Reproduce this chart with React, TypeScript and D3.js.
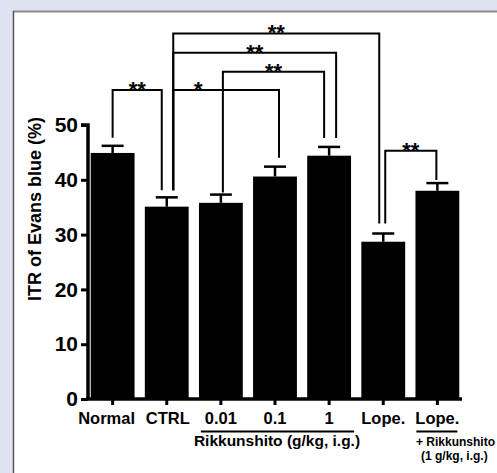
import React, { useEffect, useRef } from 'react';
import * as d3 from 'd3';

const categories = ['Normal', 'CTRL', '0.01', '0.1', '1', 'Lope.', 'Lope.+R'];
const tickLabels = ['Normal', 'CTRL', '0.01', '0.1', '1', 'Lope.', 'Lope.'];
const means = [44.9, 35.1, 35.8, 40.6, 44.4, 28.7, 38.0];
const sems = [1.3, 1.7, 1.5, 1.8, 1.6, 1.5, 1.4];
const yTicks = [0, 10, 20, 30, 40, 50];

// significance brackets: [from, to, level (% units), label]
const brackets: [number, number, number, string][] = [
    [0, 1, 56.4, '**'],
    [1, 3, 56.4, '*'],
    [2, 4, 59.7, '**'],
    [1, 4, 63.2, '**'],
    [1, 5, 66.7, '**'],
    [5, 6, 45.3, '**'],
];
// leg offsets from bar centre and gaps above error bars, in px
const legOffsets: [number, number][] = [[0, -5], [6.5, 4], [2, -5], [6.5, 7], [6.5, -4], [2, -1]];
const legGaps: [number, number][] = [[8, 7], [7, 9], [2, 9], [7, 9], [7, 10], [10, 3]];

const App = () => {
    const ref = useRef(null);

    useEffect(() => {
        document.body.style.margin = '0';
        document.body.style.overflow = 'hidden';
        const svg = d3.select(ref.current);
        svg.selectAll('*').remove();
        const font = 'Liberation Sans, Arial, sans-serif';

        // frame: lavender strips top and left, white panel elsewhere
        svg.append('rect').attr('width', 497).attr('height', 473).attr('fill', '#fff');
        svg.append('rect').attr('width', 497).attr('height', 11).attr('fill', '#dfe3f1');
        svg.append('rect').attr('width', 13).attr('height', 473).attr('fill', '#dfe3f1');
        svg.append('line').attr('x1', 13).attr('x2', 497).attr('y1', 11.5).attr('y2', 11.5)
            .attr('stroke', '#8c8c8c').attr('stroke-width', 2);
        svg.append('line').attr('x1', 13.5).attr('x2', 13.5).attr('y1', 11).attr('y2', 473)
            .attr('stroke', '#555').attr('stroke-width', 1.5);

        const x = d3.scaleBand().domain(categories).range([88, 462]).paddingInner(0.19).paddingOuter(0.05);
        const y = d3.scaleLinear().domain([0, 50]).range([399, 125]);
        const cx = (i: number) => (x(categories[i]) as number) + x.bandwidth() / 2;

        const g = svg.append('g');

        // bars
        g.selectAll('rect.bar').data(means).enter().append('rect')
            .attr('x', (d, i) => x(categories[i]) as number)
            .attr('width', x.bandwidth())
            .attr('y', d => y(d))
            .attr('height', d => y(0) - y(d))
            .attr('fill', '#000');

        // error bars
        means.forEach((m, i) => {
            const c = cx(i);
            g.append('line').attr('x1', c).attr('x2', c).attr('y1', y(m)).attr('y2', y(m + sems[i]))
                .attr('stroke', '#000').attr('stroke-width', 2.5);
            g.append('line').attr('x1', c - 11).attr('x2', c + 11).attr('y1', y(m + sems[i])).attr('y2', y(m + sems[i]))
                .attr('stroke', '#000').attr('stroke-width', 2.5);
        });

        // y axis
        const yAxis = g.append('g').attr('transform', 'translate(88,0)')
            .call(d3.axisLeft(y).tickValues(yTicks).tickSize(7).tickPadding(3));
        yAxis.select('.domain').attr('stroke-width', 3.5).attr('d', `M-7,${y(50)}H0V${y(0)}`);
        yAxis.selectAll('.tick line').attr('stroke-width', 3);
        yAxis.selectAll('.tick text').attr('font-family', font).attr('font-size', 21).attr('font-weight', 'bold').attr('fill', '#000');

        // x axis
        const xAxis = g.append('g').attr('transform', `translate(0,${y(0)})`)
            .call(d3.axisBottom(x).tickSize(6).tickPadding(7).tickFormat((d, i) => tickLabels[i]));
        xAxis.select('.domain').attr('stroke-width', 3.5).attr('d', `M86,0H462`);
        xAxis.selectAll('.tick line').attr('stroke-width', 3);
        xAxis.selectAll('.tick text').attr('font-family', font).attr('font-size', 16.5).attr('font-weight', 'bold').attr('fill', '#000')
            .attr('dx', (d, i) => (i === 0 ? -6 : i === 1 ? 1 : 0));

        // group underlines and labels
        g.append('line').attr('x1', cx(2) - 20).attr('x2', cx(4) + 25).attr('y1', 431.5).attr('y2', 431.5)
            .attr('stroke', '#000').attr('stroke-width', 2);
        g.append('line').attr('x1', cx(6) - 21).attr('x2', cx(6) + 20).attr('y1', 431.5).attr('y2', 431.5)
            .attr('stroke', '#000').attr('stroke-width', 2);
        g.append('text').attr('x', (cx(2) + cx(4)) / 2 + 2).attr('y', 446).attr('text-anchor', 'middle')
            .attr('font-family', font).attr('font-size', 15.5).attr('font-weight', 'bold').text('Rikkunshito (g/kg, i.g.)');
        g.append('text').attr('x', 416).attr('y', 446)
            .attr('font-family', font).attr('font-size', 12).attr('font-weight', 'bold').text('+ Rikkunshito');
        g.append('text').attr('x', 421).attr('y', 460)
            .attr('font-family', font).attr('font-size', 12).attr('font-weight', 'bold').text('(1 g/kg, i.g.)');

        // y title
        g.append('text').attr('transform', 'translate(41,209) rotate(-90)').attr('text-anchor', 'middle')
            .attr('font-family', font).attr('font-size', 18).attr('font-weight', 'bold').text('ITR of Evans blue (%)');

        // significance brackets
        brackets.forEach(([a, b, lvl, label], k) => {
            const xa = cx(a) + legOffsets[k][0];
            const xb = cx(b) + legOffsets[k][1];
            const ya = y(means[a] + sems[a]) - legGaps[k][0];
            const yb = y(means[b] + sems[b]) - legGaps[k][1];
            const yl = y(lvl);
            g.append('path').attr('d', `M${xa},${ya}V${yl}H${xb}V${yb}`)
                .attr('fill', 'none').attr('stroke', '#000').attr('stroke-width', 2);
            g.append('text').attr('x', label === '*' ? xa + 25 : (xa + xb) / 2).attr('y', yl + 7)
                .attr('text-anchor', 'middle').attr('font-family', font).attr('font-size', 22)
                .attr('font-weight', 'bold').text(label);
        });
    }, []);

    return (
        <svg ref={ref} width={497} height={473} style={{ position: 'absolute', left: 0, top: 0 }} />
    );
};

export default App;
